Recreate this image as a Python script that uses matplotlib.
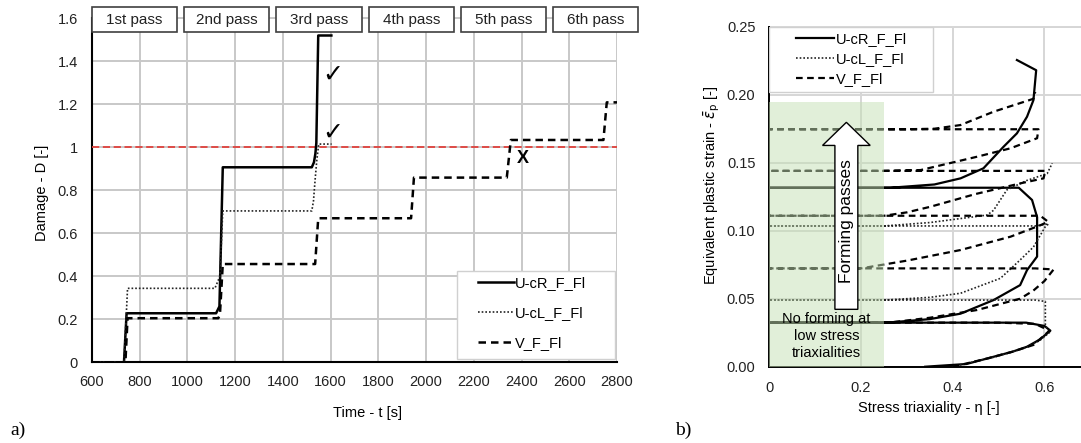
import numpy as np
import matplotlib
matplotlib.use("Agg")
import matplotlib.pyplot as plt
from matplotlib.patches import Rectangle, FancyArrow

plt.rcParams['font.family'] = ['Liberation Sans', 'DejaVu Sans']
plt.rcParams['font.size'] = 10

# ---- a) damage over time ----
series_names = ['U-cR_F_Fl', 'U-cL_F_Fl', 'V_F_Fl']
pass_labels = ['1st pass', '2nd pass', '3rd pass', '4th pass', '5th pass', '6th pass']

cR_t = [600, 734, 745, 1120, 1134, 1148, 1521, 1530, 1536, 1540, 1548, 1603]
cR_D = [0, 0, 0.228, 0.228, 0.26, 0.907, 0.907, 0.93, 0.97, 1.02, 1.52, 1.52]

cL_t = [600, 734, 749, 1115, 1136, 1148, 1521, 1528, 1535, 1542, 1550, 1604]
cL_D = [0, 0, 0.344, 0.344, 0.40, 0.704, 0.704, 0.75, 0.85, 0.94, 1.015, 1.015]

V_t = [600, 740, 749, 1129, 1136, 1148, 1535, 1548, 1937, 1949, 2338, 2355, 2743, 2757, 2800]
V_D = [0, 0, 0.205, 0.205, 0.22, 0.457, 0.457, 0.67, 0.67, 0.859, 0.859, 1.034, 1.034, 1.209, 1.209]

damage_limit = 1.0

# ---- b) strain vs triaxiality ----
cR_eta = [0.34, 0.43, 0.49, 0.53, 0.562, 0.59, 0.613, 0.60, 0.56, 0.0,
          0.257, 0.35, 0.417, 0.489, 0.547, 0.562, 0.584, 0.584, 0.573, 0.544, 0.0,
          0.264, 0.36, 0.417, 0.467, 0.511, 0.540, 0.562, 0.576, 0.582, 0.540]
cR_eps = [0.0, 0.002, 0.0074, 0.011, 0.0147, 0.02, 0.0265, 0.030, 0.0324, 0.0324,
          0.0324, 0.035, 0.039, 0.049, 0.060, 0.071, 0.081, 0.110, 0.1226, 0.1316, 0.1316,
          0.1316, 0.134, 0.1385, 0.1459, 0.1618, 0.1716, 0.1838, 0.196, 0.218, 0.2255]

cL_eta = [0.40, 0.49, 0.56, 0.591, 0.613, 0.602, 0.602, 0.58, 0.0,
          0.25, 0.35, 0.417, 0.504, 0.547, 0.576, 0.602, 0.609, 0.58, 0.0,
          0.25, 0.35, 0.475, 0.489, 0.518, 0.562, 0.606, 0.617]
cL_eps = [0.0, 0.007, 0.014, 0.0196, 0.0257, 0.030, 0.048, 0.049, 0.049,
          0.049, 0.051, 0.054, 0.065, 0.0785, 0.088, 0.103, 0.105, 0.1035, 0.1035,
          0.1035, 0.106, 0.1115, 0.115, 0.130, 0.137, 0.142, 0.1496]

V_eta = [0.40, 0.475, 0.53, 0.576, 0.611, 0.58, 0.50, 0.0,
         0.26, 0.35, 0.453, 0.547, 0.576, 0.60, 0.62, 0.58, 0.0,
         0.20, 0.30, 0.417, 0.526, 0.591, 0.608, 0.591, 0.0,
         0.25, 0.30, 0.351, 0.45, 0.55, 0.598, 0.602, 0.55, 0.0,
         0.25, 0.33, 0.453, 0.526, 0.584, 0.587, 0.55, 0.0,
         0.30, 0.36, 0.417, 0.489, 0.576, 0.58]
V_eps = [0.0, 0.006, 0.011, 0.016, 0.0265, 0.0315, 0.0324, 0.0324,
         0.0324, 0.036, 0.0417, 0.050, 0.056, 0.063, 0.0715, 0.0723, 0.0723,
         0.0723, 0.078, 0.0858, 0.0956, 0.104, 0.1066, 0.111, 0.111,
         0.111, 0.1135, 0.1176, 0.127, 0.135, 0.1385, 0.144, 0.144, 0.144,
         0.144, 0.1446, 0.1544, 0.1606, 0.168, 0.1746, 0.1746, 0.1746,
         0.1746, 0.175, 0.1777, 0.1875, 0.197, 0.202]

fig = plt.figure(figsize=(10.81, 4.43), dpi=100)

# ---------------- left chart ----------------
ax1 = fig.add_axes([0.0851, 0.1822, 0.4857, 0.7765])
ax1.plot(cR_t, cR_D, color='black', lw=1.8, label=series_names[0], zorder=4)
ax1.plot(cL_t, cL_D, color='#222222', lw=1.2, ls=(0, (1, 1.2)), label=series_names[1], zorder=4)
ax1.plot(V_t, V_D, color='black', lw=1.8, ls=(0, (3, 2)), label=series_names[2], zorder=4)
ax1.axhline(damage_limit, color='#e0413c', lw=1.3, ls=(0, (4, 2)), zorder=3)

ax1.set_xlim(600, 2800)
ax1.set_ylim(0, 1.6)
ax1.set_xticks(np.arange(600, 2801, 200))
ax1.set_yticks(np.arange(0, 1.61, 0.2))
ax1.set_yticklabels(['0', '0.2', '0.4', '0.6', '0.8', '1', '1.2', '1.4', '1.6'])
ax1.tick_params(length=0, labelsize=10.5, colors='#222222')
ax1.tick_params(axis='y', pad=10)
ax1.tick_params(axis='x', pad=9)
ax1.grid(True, color='#c8c8c8', lw=1.4)
ax1.axhline(1.6, color='#c8c8c8', lw=1.4, clip_on=False, zorder=0.5)
ax1.set_axisbelow(True)
for s in ['top', 'right']:
    ax1.spines[s].set_visible(False)
for s in ['left', 'bottom']:
    ax1.spines[s].set_color('black')
    ax1.spines[s].set_linewidth(1.5)

# legend box drawn separately so it can be wider than the entries
ax1.add_patch(Rectangle((0.695, 0.0096), 0.301, 0.256, transform=ax1.transAxes,
                        facecolor='white', edgecolor='#d0d0d0', lw=1.0, zorder=5))
leg1 = ax1.legend(loc='upper left', bbox_to_anchor=(0.735, 0.250), fontsize=10.5,
                  frameon=False, handlelength=2.45, handletextpad=0.1, labelspacing=1.08,
                  borderpad=0, borderaxespad=0)
leg1.set_zorder(6)

# pass boxes along the top
for i, lab in enumerate(pass_labels):
    xc = 0.081 + i * 0.1757
    ax1.add_patch(Rectangle((xc - 0.081, 0.996 - 0.037), 0.162, 0.074, transform=ax1.transAxes,
                            facecolor='white', edgecolor='#404040', lw=1.2, clip_on=False, zorder=7))
    ax1.text(xc, 0.996, lab, transform=ax1.transAxes, ha='center', va='center',
             fontsize=11, color='#222222', zorder=8, clip_on=False)

ax1.text(1610, 1.336, '\u2713', fontsize=18, ha='center', va='center',
         family=['DejaVu Sans'], fontweight='bold', zorder=5)
ax1.text(1610, 1.066, '\u2713', fontsize=18, ha='center', va='center',
         family=['DejaVu Sans'], fontweight='bold', zorder=5)
ax1.text(2406, 0.95, 'X', fontsize=13, ha='center', va='center', fontweight='bold', zorder=5)

fig.text(367 / 1081, 1 - 413 / 443, 'Time - t [s]', ha='center', va='center', fontsize=10.5)
fig.text(42 / 1081, 1 - 193 / 443, 'Damage - D [-]', ha='center', va='center',
         rotation=90, fontsize=10.5)

# ---------------- right chart ----------------
ax2 = fig.add_axes([0.7117, 0.1722, 0.2884, 0.7675])
ax2.plot(cR_eta, cR_eps, color='black', lw=1.6, label=series_names[0], zorder=3)
ax2.plot(cL_eta, cL_eps, color='#222222', lw=1.2, ls=(0, (1, 1.2)), label=series_names[1], zorder=3)
ax2.plot(V_eta, V_eps, color='black', lw=1.6, ls=(0, (3, 2)), label=series_names[2], zorder=3)

ax2.set_xlim(0, 0.68)
ax2.set_ylim(0, 0.25)
ax2.set_xticks([0, 0.2, 0.4, 0.6])
ax2.set_xticklabels(['0', '0.2', '0.4', '0.6'])
ax2.set_yticks(np.arange(0, 0.251, 0.05))
ax2.set_yticklabels(['0.00', '0.05', '0.10', '0.15', '0.20', '0.25'])
ax2.tick_params(length=0, labelsize=10.5, colors='#222222')
ax2.tick_params(axis='y', pad=10)
ax2.tick_params(axis='x', pad=10)
ax2.grid(True, color='#d6d6d6', lw=1.4)
ax2.axhline(0.25, color='#d6d6d6', lw=1.4, clip_on=False, zorder=0.5)
ax2.set_axisbelow(True)
for s in ['top', 'right']:
    ax2.spines[s].set_visible(False)
for s in ['left', 'bottom']:
    ax2.spines[s].set_color('black')
    ax2.spines[s].set_linewidth(1.4)

ax2.axvspan(0, 0.25, ymin=0, ymax=0.195 / 0.25, facecolor='#c5e0b4', alpha=0.5,
            edgecolor='none', zorder=4)
ax2.add_patch(FancyArrow(0.168, 0.0422, 0, 0.1375, width=0.05, head_width=0.104,
                         head_length=0.017, length_includes_head=True,
                         facecolor='white', edgecolor='black', lw=1.0, zorder=5))
ax2.text(0.168, 0.107, 'Forming passes', rotation=90, ha='center', va='center',
         fontsize=12.5, zorder=6)
ax2.text(0.125, 0.0225, 'No forming at\nlow stress\ntriaxialities', ha='center', va='center',
         fontsize=10.5, linespacing=1.25, zorder=6)

ax2.add_patch(Rectangle((0.0, 0.808), 0.526, 0.192, transform=ax2.transAxes,
                        facecolor='white', edgecolor='#d0d0d0', lw=1.0, zorder=6))
leg2 = ax2.legend(loc='upper left', bbox_to_anchor=(0.0857, 0.983), fontsize=10.5,
                  frameon=False, handlelength=2.6, handletextpad=0.1, labelspacing=0.4,
                  borderpad=0, borderaxespad=0)
leg2.set_zorder(7)

fig.text(929 / 1081, 1 - 408 / 443, 'Stress triaxiality - \u03b7 [-]', ha='center', va='center',
         fontsize=10.5)
fig.text(712 / 1081, 1 - 185 / 443, r'Equivalent plastic strain - $\bar{\varepsilon}_\mathrm{p}$ [-]',
         ha='center', va='center', rotation=90, fontsize=10.5)

fig.text(18 / 1081, 1 - 430 / 443, 'a)', family=['Liberation Serif'], fontsize=14,
         ha='center', va='center')
fig.text(683 / 1081, 1 - 430 / 443, 'b)', family=['Liberation Serif'], fontsize=14,
         ha='center', va='center')

fig.savefig('out.png', dpi=100)
